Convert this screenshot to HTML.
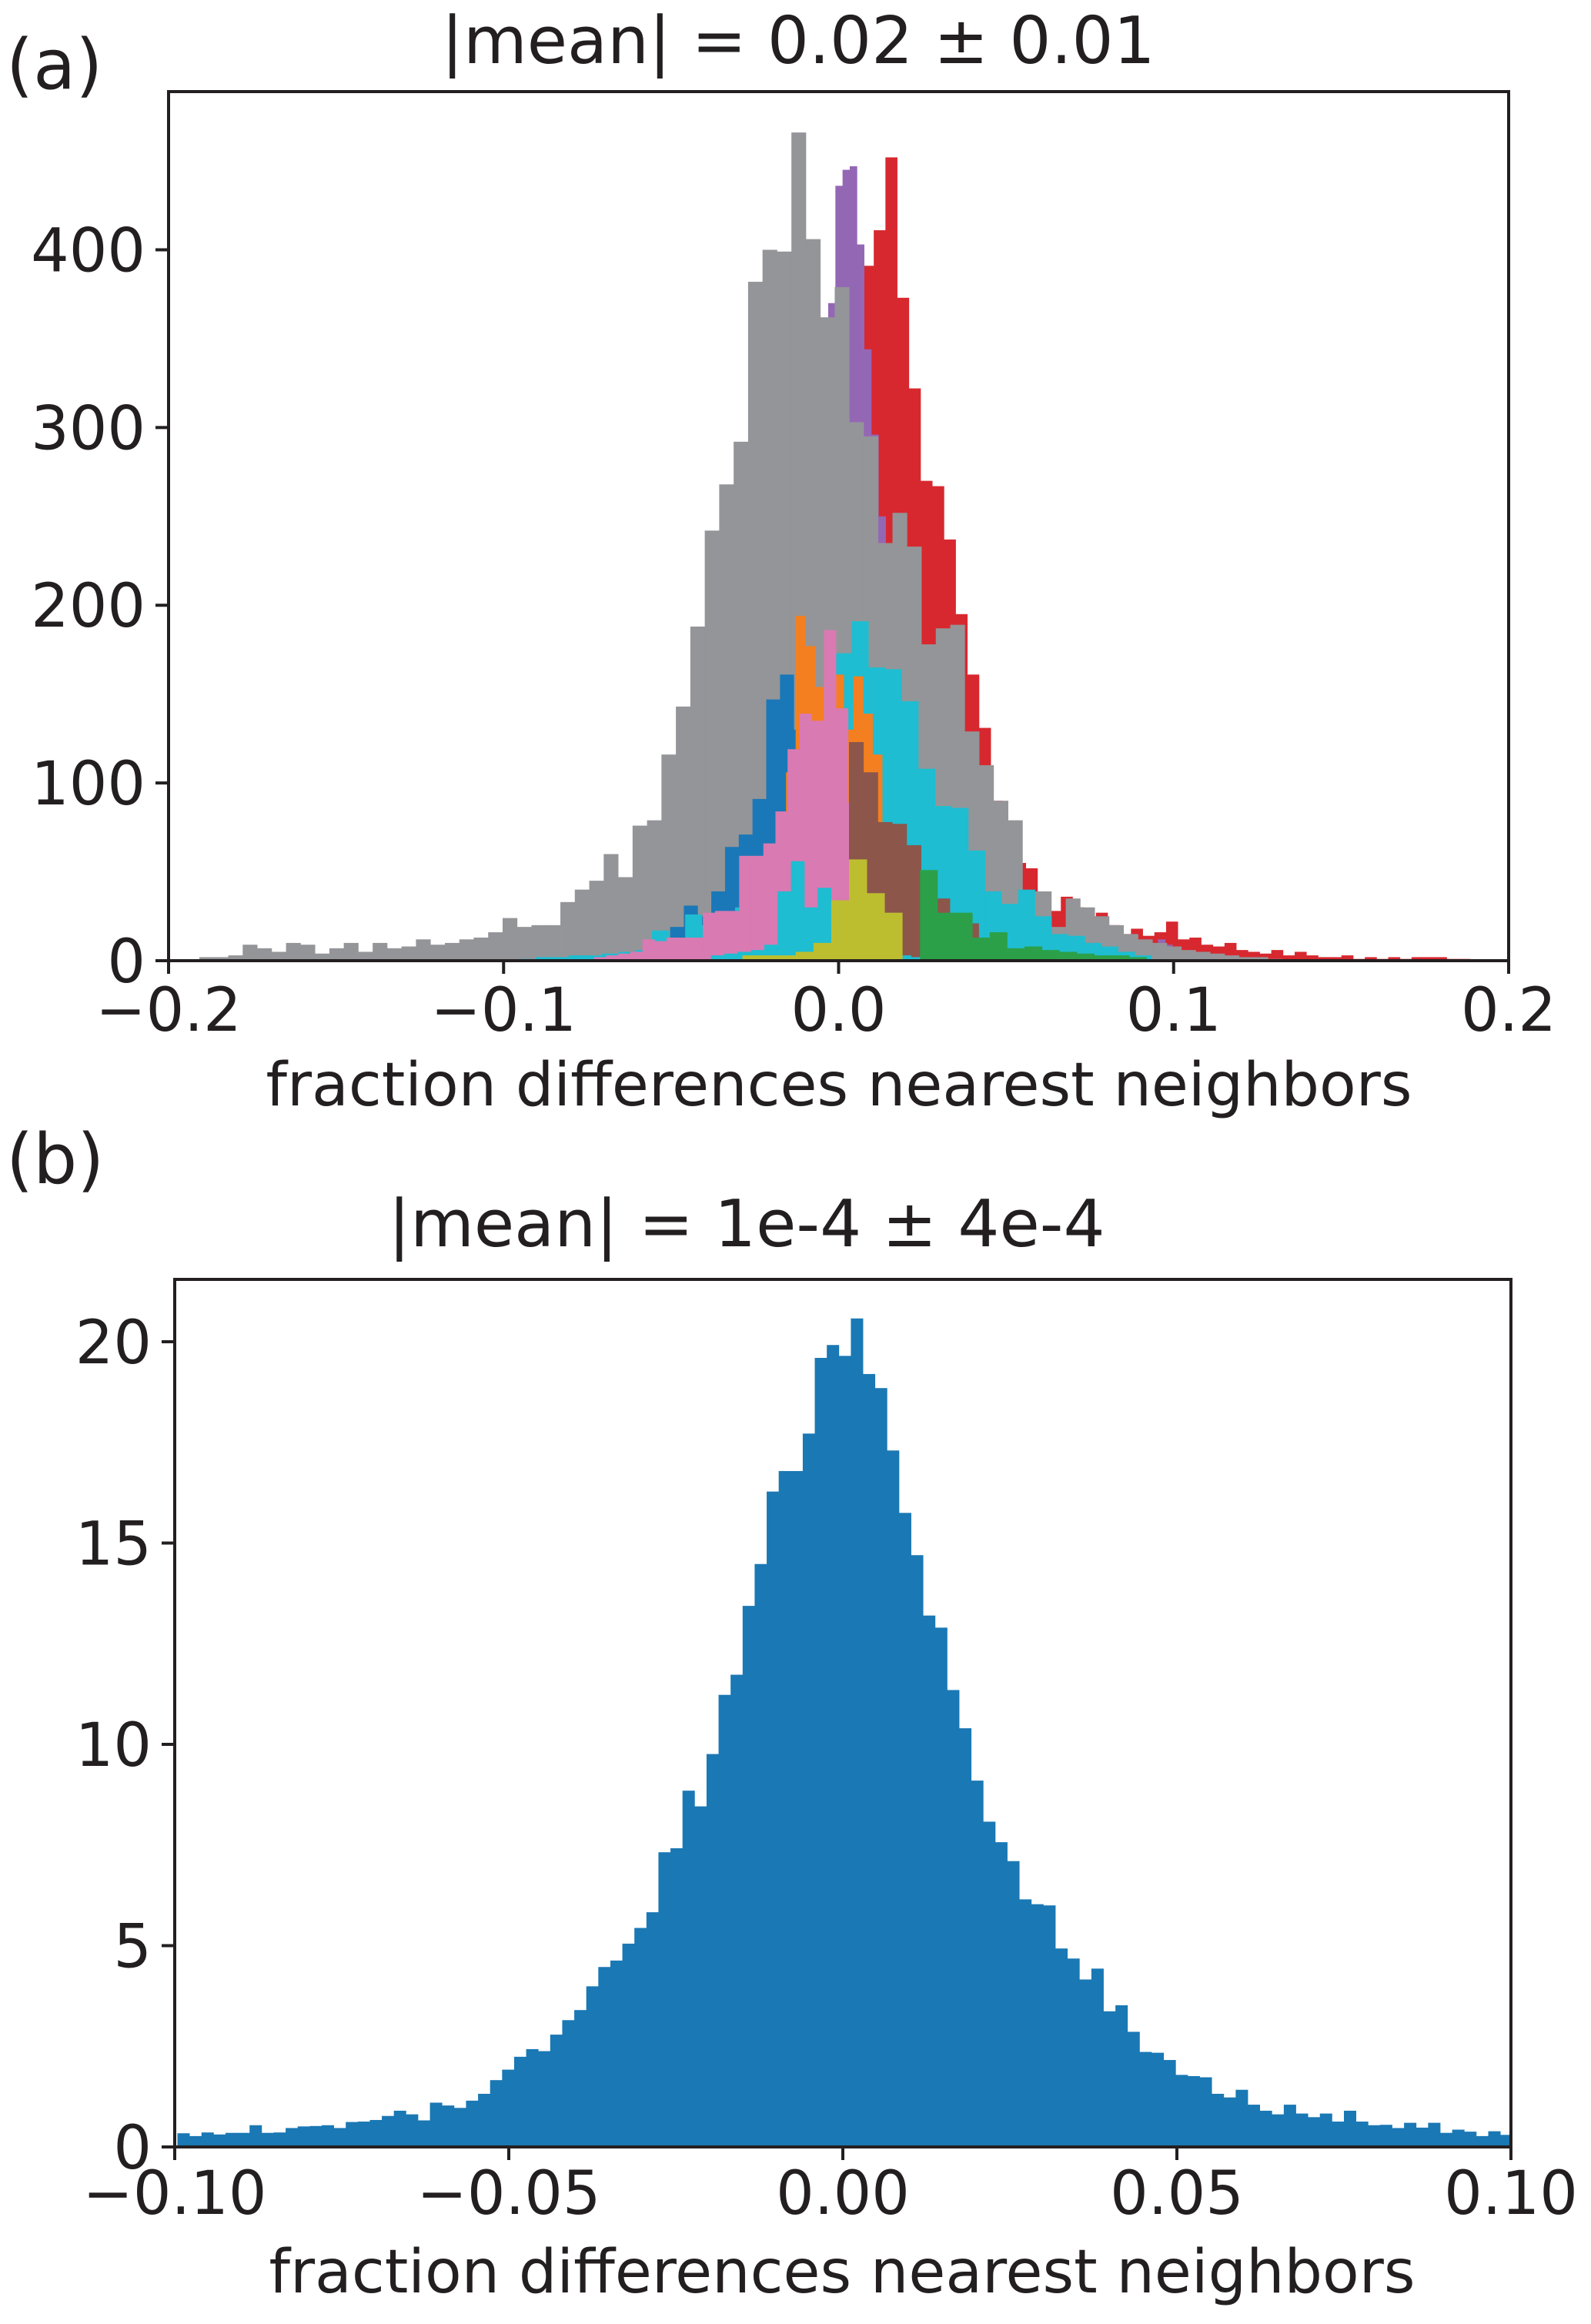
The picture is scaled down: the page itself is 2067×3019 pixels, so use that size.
<!DOCTYPE html>
<html><head><meta charset="utf-8"><style>
html,body{margin:0;padding:0;background:#fff;}
svg{display:block;font-family:"DejaVu Sans","Liberation Sans",sans-serif;}
</style></head>
<body>
<svg id="fig" width="2067" height="3019" viewBox="0 0 2067 3019" xmlns="http://www.w3.org/2000/svg">
<rect width="2067" height="3019" fill="#fff"/>
<text x="8" y="115" font-size="90" fill="#231f20">(a)</text>
<text x="1037" y="82" font-size="85" text-anchor="middle" fill="#231f20">|mean| = 0.02 ± 0.01</text>
<g id="pa"></g>
<text x="1090" y="1436" font-size="78" text-anchor="middle" fill="#231f20">fraction differences nearest neighbors</text>
<text x="8" y="1537" font-size="90" fill="#231f20">(b)</text>
<text x="970" y="1619" font-size="85" text-anchor="middle" fill="#231f20">|mean| = 1e-4 ± 4e-4</text>
<g id="pb"></g>
<text x="1094" y="2978" font-size="78" text-anchor="middle" fill="#231f20">fraction differences nearest neighbors</text>
</svg>
<script>
// ---------- Panel (a) data ----------
const aXTicks = [-0.2, -0.1, 0.0, 0.1, 0.2];
const aXTickLabels = ["\u22120.2", "\u22120.1", "0.0", "0.1", "0.2"];
const aYTicks = [0, 100, 200, 300, 400];
const aYTickLabels = ["0", "100", "200", "300", "400"];

const redStart = 0.0070, redWidth = 0.00349;
const redCounts = [391,411,452,373,322,270,267,237,195,161,131,90,75,55,52,35,28,36,30,25,27,20,15,18,14,16,22,12,13,9,8,10,6,5,4,6,3,5,3,2,2,3,1,2,1,2,1,2,2,2,1,1];

const purpleStart = -0.0031, purpleWidth = 0.00214;
const purpleCounts = [370,436,445,447,403,344,296,250,200,150,120,90,60,45,35,28,22,18,15,12,10,14,12,9,13,10,8,7,10,6,5,6,4,5,3,4,3,2,3,2,2,1,2,1,8,10,12,9,6,4,3,2,2,1];

const grayStart = -0.1908, grayWidth = 0.00431;
const grayCounts = [2,2,3,9,7,5,10,9,4,7,10,5,10,7,8,12,9,10,12,13,16,24,19,20,20,33,40,45,60,47,
  76,79,116,143,188,242,268,292,382,400,399,466,406,362,379,303,295,235,252,233,178,187,189,129,110,90,79,39,39,19,
  35,30,25,20,15,12,10,8,6,5,4,3,2,2,1];

const blueStart = -0.0626, blueWidth = 0.0041;
const blueCounts = [2,3,5,19,31,25,39,64,71,91,147,161,130,100,70,40,20,10,5];

const cyanStart = -0.0955, cyanWidth = 0.00497;
const cyanCounts = [1,2,2,3,3,4,5,6,17,12,26,20,25,30,40,55,80,110,140,173,191,165,164,146,108,87,86,62,39,32,40,25,15,14,10,8,5,3];

const orangeStart = -0.0157, orangeWidth = 0.00287;
const orangeCounts = [106,194,177,154,150,161,130,160,139,116,30];

const pinkStart = -0.0730, pinkWidth = 0.00361;
const pinkCounts = [2,3,4,5,12,11,13,13,13,27,28,28,59,59,66,84,119,139,135,186,142,89,79,63,56,30,18,19,13,7,14,5,4,3,3,2];

const brownStart = 0.0031, brownWidth = 0.0043;
const brownCounts = [123,106,78,77,65,39,35,17,21,6,4,3,2];

const cyan2Start = -0.0381, cyan2Width = 0.00398;
const cyan2Counts = [3,4,5,6,9,39,56,30,41,19,14,12,6,4,3,2];

const oliveStart = -0.0287, oliveWidth = 0.0053;
const oliveCounts = [3,3,3,5,10,34,57,38,27];

const greenStart = 0.0243, greenWidth = 0.0052;
const greenCounts = [51,27,27,13,16,7,8,6,5,4,3,3,2];

// ---------- Panel (b) data ----------
const bXTicks = [-0.10, -0.05, 0.00, 0.05, 0.10];
const bXTickLabels = ["\u22120.10", "\u22120.05", "0.00", "0.05", "0.10"];
const bYTicks = [0, 5, 10, 15, 20];
const bYTickLabels = ["0", "5", "10", "15", "20"];
const bStart = -0.0996, bWidth = 0.0018;
const bCounts = [0.34,0.27,0.36,0.31,0.35,0.35,0.54,0.35,0.36,0.47,0.51,0.52,0.54,0.47,0.62,0.63,0.67,0.77,0.90,0.81,
  0.66,1.10,1.03,0.97,1.15,1.32,1.66,1.92,2.24,2.43,2.38,2.79,3.15,3.40,3.99,4.47,4.63,5.05,5.44,5.83,
  7.32,7.42,8.85,8.46,9.76,11.23,11.73,13.44,14.48,16.28,16.79,16.79,17.72,19.60,19.92,19.65,20.58,19.20,18.85,17.30,
  15.75,14.70,13.20,12.90,11.35,10.40,9.10,8.08,7.57,7.10,6.15,6.03,6.00,4.93,4.68,4.16,4.43,3.37,3.52,2.86,
  2.36,2.34,2.16,1.79,1.76,1.73,1.32,1.23,1.42,1.05,0.90,0.81,1.05,0.83,0.74,0.83,0.63,0.90,0.63,0.54,
  0.55,0.47,0.60,0.48,0.60,0.35,0.43,0.38,0.27,0.39,0.30,0.47];

const NS = "http://www.w3.org/2000/svg";
function mk(tag, attrs, parent) {
  const e = document.createElementNS(NS, tag);
  for (const k in attrs) e.setAttribute(k, attrs[k]);
  parent.appendChild(e);
  return e;
}

function drawPanel(g, P, xmin, xmax, ymax) {
  const xs = v => P.L + (v - xmin) / (xmax - xmin) * (P.R - P.L);
  const ys = v => P.B - v / ymax * (P.B - P.T);
  const clipId = g.id + "clip";
  const defs = mk("defs", {}, g);
  const cp = mk("clipPath", {id: clipId}, defs);
  mk("rect", {x: P.L, y: P.T, width: P.R - P.L, height: P.B - P.T}, cp);
  const bars = mk("g", {"clip-path": "url(#" + clipId + ")"}, g);
  return {xs, ys, bars};
}

function drawSeries(ctx, name, start, width, counts, color) {
  const grp = mk("g", {}, ctx.bars);
  
  
  counts.forEach((c, i) => {
    if (c <= 0) return;
    const x0 = ctx.xs(start + i * width), x1 = ctx.xs(start + (i + 1) * width);
    const y = ctx.ys(c), y0 = ctx.ys(0);
    const r = mk("rect", {x: x0, y: y, width: Math.max(0.5, x1 - x0 + 0.4), height: y0 - y, fill: color}, grp);
    
    
  });
}

function drawAxes(g, ctx, P, xt, xl, yt, yl, xLabY) {
  const ax = mk("g", {}, g);
  
  
  mk("rect", {x: P.L, y: P.T, width: P.R - P.L, height: P.B - P.T, fill: "none", stroke: "#231f20", "stroke-width": 4}, ax);
  xt.forEach((v, i) => {
    const x = ctx.xs(v);
    const t = mk("line", {x1: x, x2: x, y1: P.B, y2: P.B + 17, stroke: "#231f20", "stroke-width": 4}, ax);
    
    
    const tx = mk("text", {x: x, y: xLabY, "font-size": 78, "text-anchor": "middle", fill: "#231f20"}, ax);
    
    
    tx.textContent = xl[i];
  });
  yt.forEach((v, i) => {
    const y = ctx.ys(v);
    const t = mk("line", {x1: P.L - 17, x2: P.L, y1: y, y2: y, stroke: "#231f20", "stroke-width": 4}, ax);
    
    
    const tx = mk("text", {x: P.L - 30, y: y + 28, "font-size": 78, "text-anchor": "end", fill: "#231f20"}, ax);
    
    
    tx.textContent = yl[i];
  });
}

// Panel a
const PA = {L: 219, R: 1960, T: 119, B: 1248};
const ga = document.getElementById("pa");
const ca = drawPanel(ga, PA, -0.2, 0.2, 489);
drawSeries(ca, 'red-histogram', redStart, redWidth, redCounts, "#d7282f");
drawSeries(ca, 'purple-histogram', purpleStart, purpleWidth, purpleCounts, "#9467b5");
drawSeries(ca, 'gray-histogram', grayStart, grayWidth, grayCounts, "#949598");
drawSeries(ca, 'blue-histogram', blueStart, blueWidth, blueCounts, "#1a78b8");
drawSeries(ca, 'cyan-histogram', cyanStart, cyanWidth, cyanCounts, "#1ebdd1");
drawSeries(ca, 'orange-histogram', orangeStart, orangeWidth, orangeCounts, "#f47f20");
drawSeries(ca, 'pink-histogram', pinkStart, pinkWidth, pinkCounts, "#d97ab2");
drawSeries(ca, 'brown-histogram', brownStart, brownWidth, brownCounts, "#8c564b");
drawSeries(ca, 'cyan-low-histogram', cyan2Start, cyan2Width, cyan2Counts, "#1ebdd1");
drawSeries(ca, 'olive-histogram', oliveStart, oliveWidth, oliveCounts, "#bdbe2f");
drawSeries(ca, 'green-histogram', greenStart, greenWidth, greenCounts, "#2ca048");
drawAxes(ga, ca, PA, aXTicks, aXTickLabels, aYTicks, aYTickLabels, 1339);

// Panel b
const PB = {L: 227, R: 1963, T: 1662, B: 2789};
const gb = document.getElementById("pb");
const cb = drawPanel(gb, PB, -0.1, 0.1, 21.55);
drawSeries(cb, 'histogram', bStart, bWidth, bCounts, "#1a78b4");
drawAxes(gb, cb, PB, bXTicks, bXTickLabels, bYTicks, bYTickLabels, 2876);
</script>
</body></html>
